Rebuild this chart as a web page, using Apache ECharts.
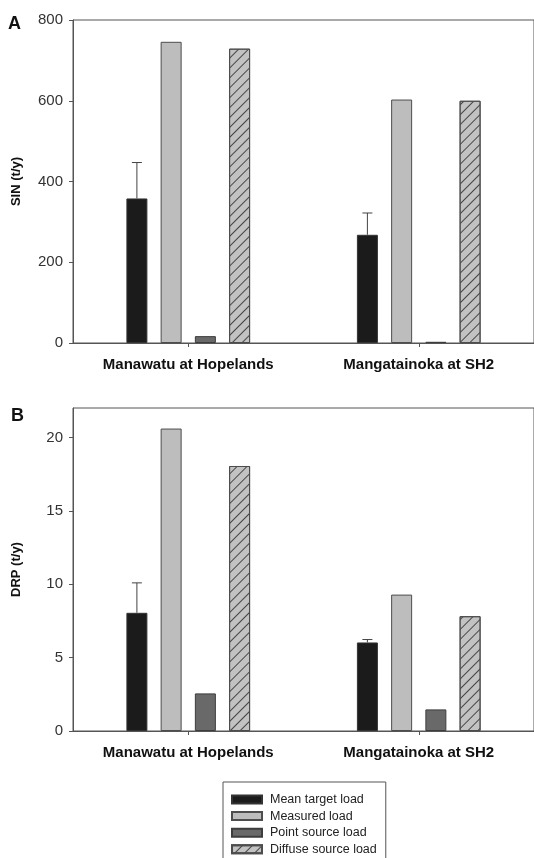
<!DOCTYPE html>
<html>
<head>
<meta charset="utf-8">
<script src="https://cdn.jsdelivr.net/npm/echarts@6/dist/echarts.min.js"></script>
<style>
  html, body { margin: 0; padding: 0; background: #fff; }
  #loadChart { width: 534px; height: 858px; }
</style>
</head>
<body>
<div id="loadChart"></div>
<script>
  // categories and series names
  const categories = ['Manawatu at Hopelands', 'Mangatainoka at SH2']
  const seriesNames = ['Mean target load', 'Measured load', 'Point source load', 'Diffuse source load']

  // panel A: SIN (t/y)
  const sinMeanTarget = [358, 268]
  const sinMeanTargetUpper = [447, 322]
  const sinMeasured = [746, 603]
  const sinPoint = [17, 3]
  const sinDiffuse = [729, 600]
  const sinTicks = [0, 200, 400, 600, 800]

  // panel B: DRP (t/y)
  const drpMeanTarget = [8.05, 6.03]
  const drpMeanTargetUpper = [10.09, 6.23]
  const drpMeasured = [20.6, 9.29]
  const drpPoint = [2.56, 1.47]
  const drpDiffuse = [18.05, 7.82]
  const drpTicks = [0, 5, 10, 15, 20]

  const fontFamily = '"Liberation Sans", Arial, sans-serif'
  const barWidth = 21
  const barGapRatio = 0.63
  // centre of the first bar relative to the category centre
  const totalWidth = 4 * barWidth + 3 * barWidth * barGapRatio
  const firstBarOffset = -totalWidth / 2 + barWidth / 2

  const barStyles = [
    {color: '#1b1b1b', borderColor: '#333', borderWidth: 1},
    {color: '#bdbdbd', borderColor: '#4d4d4d', borderWidth: 1},
    {color: '#696969', borderColor: '#3d3d3d', borderWidth: 1},
    {
      color: '#c2c2c2',
      borderColor: '#4d4d4d',
      borderWidth: 1,
      decal: {
        symbol: 'rect',
        symbolSize: 1,
        color: '#454545',
        dashArrayX: [1, 0],
        dashArrayY: [1, 6],
        rotation: -Math.PI / 4
      }
    }
  ]

  function makeBars (idx, lists) {
    return lists.map(function (list, i) {
      return {
        name: seriesNames[i],
        type: 'bar',
        xAxisIndex: idx,
        yAxisIndex: idx,
        data: list,
        barWidth: barWidth,
        barGap: (barGapRatio * 100) + '%',
        itemStyle: barStyles[i]
      }
    })
  }

  function makeErrorBars (idx, means, uppers) {
    let data = []
    for (let i = 0; i < means.length; i++) {
      data.push([i, means[i], uppers[i]])
    }
    return {
      type: 'custom',
      xAxisIndex: idx,
      yAxisIndex: idx,
      data: data,
      encode: {x: 0, y: [1, 2]},
      z: 5,
      renderItem: function (params, api) {
        const base = api.coord([api.value(0), api.value(1)])
        const top = api.coord([api.value(0), api.value(2)])
        const cx = base[0] + firstBarOffset
        const lineStyle = {stroke: '#444', lineWidth: 1}
        return {
          type: 'group',
          children: [
            {type: 'line', shape: {x1: cx, y1: base[1], x2: cx, y2: top[1]}, style: lineStyle},
            {type: 'line', shape: {x1: cx - 5, y1: top[1], x2: cx + 5, y2: top[1]}, style: lineStyle}
          ]
        }
      }
    }
  }

  function makeXAxis (idx) {
    return {
      type: 'category',
      gridIndex: idx,
      data: categories,
      axisLine: {show: true, lineStyle: {color: '#555', width: 1}},
      axisTick: {show: true, alignWithLabel: true, length: 4, lineStyle: {color: '#555'}},
      axisLabel: {color: '#111', fontSize: 15, fontWeight: 'bold', fontFamily: fontFamily, margin: 14}
    }
  }

  function makeYAxis (idx, name, max, ticks) {
    return {
      type: 'value',
      gridIndex: idx,
      min: 0,
      max: max,
      name: name,
      nameLocation: 'middle',
      nameGap: 50,
      nameTextStyle: {color: '#111', fontSize: 13, fontWeight: 'bold', fontFamily: fontFamily},
      splitLine: {show: false},
      axisLine: {show: true, lineStyle: {color: '#555', width: 1}},
      axisTick: {show: true, length: 4, lineStyle: {color: '#555'}, customValues: ticks},
      axisLabel: {color: '#333', fontSize: 15, fontFamily: fontFamily, margin: 10, customValues: ticks}
    }
  }

  const option = {
    animation: false,
    backgroundColor: '#fff',
    title: [
      {text: 'A', left: 8, top: 15, padding: 0, textStyle: {fontSize: 18, fontWeight: 'bold', color: '#111', fontFamily: fontFamily}},
      {text: 'B', left: 11, top: 407, padding: 0, textStyle: {fontSize: 18, fontWeight: 'bold', color: '#111', fontFamily: fontFamily}}
    ],
    legend: {
      data: seriesNames,
      orient: 'vertical',
      left: 223,
      top: 782,
      height: 120,
      padding: [11, 9, 11, 8],
      borderColor: '#555',
      borderWidth: 1,
      itemWidth: 30,
      itemHeight: 8,
      itemGap: 3.6,
      icon: 'rect',
      textStyle: {fontSize: 12.5, color: '#222', fontFamily: fontFamily, lineHeight: 12, padding: [0, 0, 0, 3]}
    },
    grid: [
      {left: 73, top: 20, width: 465, height: 323, show: true, borderColor: '#555', borderWidth: 1},
      {left: 73, top: 408, width: 465, height: 323, show: true, borderColor: '#555', borderWidth: 1}
    ],
    xAxis: [makeXAxis(0), makeXAxis(1)],
    yAxis: [
      makeYAxis(0, 'SIN (t/y)', 800, sinTicks),
      makeYAxis(1, 'DRP (t/y)', 22, drpTicks)
    ],
    series: []
      .concat(makeBars(0, [sinMeanTarget, sinMeasured, sinPoint, sinDiffuse]))
      .concat(makeBars(1, [drpMeanTarget, drpMeasured, drpPoint, drpDiffuse]))
      .concat([makeErrorBars(0, sinMeanTarget, sinMeanTargetUpper), makeErrorBars(1, drpMeanTarget, drpMeanTargetUpper)])
  }

  const loadChart = echarts.init(document.getElementById('loadChart'))
  loadChart.setOption(option)
</script>
</body>
</html>
